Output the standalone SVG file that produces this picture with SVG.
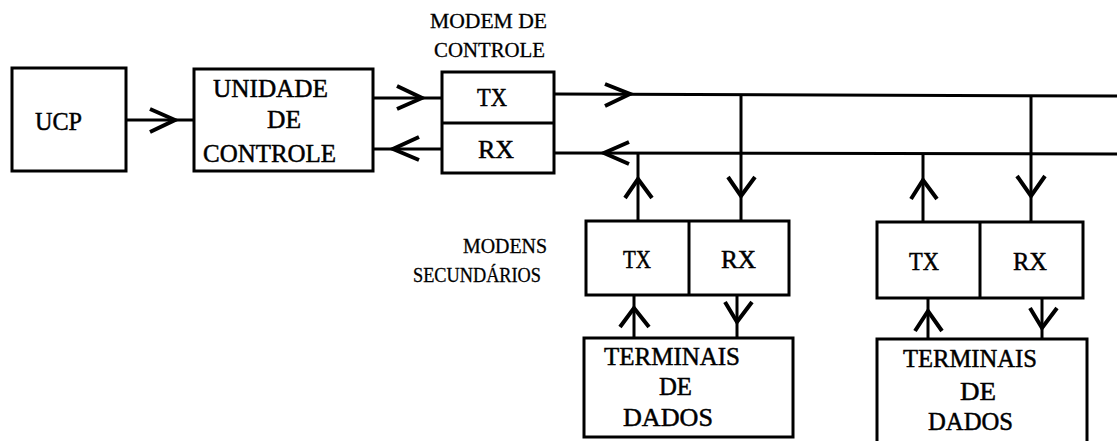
<svg xmlns="http://www.w3.org/2000/svg" width="1117" height="441" viewBox="0 0 1117 441">
  <style>
    .box { fill: none; stroke: #000; stroke-width: 3; }
    .line { fill: none; stroke: #000; stroke-width: 3; }
    .head { fill: none; stroke: #000; stroke-width: 4; stroke-linejoin: miter; stroke-linecap: butt; }
    .big { font-family: 'Times New Roman', 'Liberation Serif', 'DejaVu Serif', serif; font-size: 26px; fill: #000; stroke: #000; stroke-width: 0.5; }
    .small { font-family: 'Times New Roman', 'Liberation Serif', 'DejaVu Serif', serif; font-size: 20px; fill: #000; stroke: #000; stroke-width: 0.3; }
  </style>
  <rect width="1117" height="441" fill="#fff"/>

  <!-- CPU -->
  <g id="ucp">
    <rect class="box" x="12" y="68" width="114" height="103"/>
    <text class="big" x="35" y="130" textLength="47" lengthAdjust="spacingAndGlyphs">UCP</text>
  </g>

  <!-- Control unit -->
  <g id="unidade-controle">
    <rect class="box" x="194" y="69" width="179" height="102"/>
    <text class="big" x="213" y="97" textLength="115" lengthAdjust="spacingAndGlyphs">UNIDADE</text>
    <text class="big" x="267" y="128" textLength="34" lengthAdjust="spacingAndGlyphs">DE</text>
    <text class="big" x="203" y="162" textLength="133" lengthAdjust="spacingAndGlyphs">CONTROLE</text>
  </g>

  <!-- Control modem -->
  <g id="modem-controle">
    <text class="small" x="430" y="28" textLength="117" lengthAdjust="spacingAndGlyphs">MODEM DE</text>
    <text class="small" x="434" y="57" textLength="111" lengthAdjust="spacingAndGlyphs">CONTROLE</text>
    <rect class="box" x="442" y="72" width="112" height="101"/>
    <line class="line" x1="442" y1="123" x2="554" y2="123"/>
    <text class="big" x="477" y="106" textLength="30" lengthAdjust="spacingAndGlyphs">TX</text>
    <text class="big" x="478" y="158" textLength="36" lengthAdjust="spacingAndGlyphs">RX</text>
  </g>

  <!-- Secondary modems label -->
  <g id="label-modens">
    <text class="small" x="463" y="253" textLength="84" lengthAdjust="spacingAndGlyphs">MODENS</text>
    <text class="small" x="413" y="282" textLength="128" lengthAdjust="spacingAndGlyphs">SECUNDÁRIOS</text>
  </g>

  <!-- Secondary modem 1 -->
  <g id="modem-sec-1">
    <rect class="box" x="586" y="221" width="203" height="74"/>
    <line class="line" x1="689" y1="221" x2="689" y2="295"/>
    <text class="big" x="623" y="268" textLength="28" lengthAdjust="spacingAndGlyphs">TX</text>
    <text class="big" x="721" y="268" textLength="35" lengthAdjust="spacingAndGlyphs">RX</text>
  </g>

  <!-- Secondary modem 2 -->
  <g id="modem-sec-2">
    <rect class="box" x="877" y="222" width="206" height="76"/>
    <line class="line" x1="980" y1="222" x2="980" y2="298"/>
    <text class="big" x="909" y="270" textLength="30" lengthAdjust="spacingAndGlyphs">TX</text>
    <text class="big" x="1013" y="270" textLength="34" lengthAdjust="spacingAndGlyphs">RX</text>
  </g>

  <!-- Data terminals 1 -->
  <g id="terminais-1">
    <rect class="box" x="584" y="338" width="209" height="99"/>
    <text class="big" x="604" y="365" textLength="136" lengthAdjust="spacingAndGlyphs">TERMINAIS</text>
    <text class="big" x="659" y="395" textLength="33" lengthAdjust="spacingAndGlyphs">DE</text>
    <text class="big" x="623" y="426" textLength="90" lengthAdjust="spacingAndGlyphs">DADOS</text>
  </g>

  <!-- Data terminals 2 -->
  <g id="terminais-2">
    <rect class="box" x="877" y="339" width="210" height="106"/>
    <text class="big" x="903" y="367" textLength="134" lengthAdjust="spacingAndGlyphs">TERMINAIS</text>
    <text class="big" x="960" y="400" textLength="36" lengthAdjust="spacingAndGlyphs">DE</text>
    <text class="big" x="928" y="430" textLength="85" lengthAdjust="spacingAndGlyphs">DADOS</text>
  </g>

  <!-- Connectors -->
  <g id="connectors">
    <!-- UCP to control unit -->
    <line class="line" x1="126" y1="120" x2="194" y2="120"/>
    <path class="head" d="M150,109 L175,120 L150,132"/>
    <!-- control unit to modem TX -->
    <line class="line" x1="373" y1="98" x2="442" y2="98"/>
    <path class="head" d="M397,86 L422,98 L397,109"/>
    <!-- modem RX to control unit -->
    <line class="line" x1="373" y1="149" x2="442" y2="149"/>
    <path class="head" d="M419,137 L393,149 L419,160"/>

    <!-- outgoing bus -->
    <line class="line" x1="554" y1="94" x2="1117" y2="96"/>
    <path class="head" d="M605,84 L630,94 L605,106"/>
    <!-- return bus -->
    <line class="line" x1="554" y1="153" x2="1117" y2="154"/>
    <path class="head" d="M629,142 L604,153 L629,164"/>

    <!-- drops to secondary modem 1 -->
    <line class="line" x1="741" y1="94" x2="741" y2="221"/>
    <path class="head" d="M728,177 L741,196 L755,177"/>
    <line class="line" x1="638" y1="153" x2="638" y2="221"/>
    <path class="head" d="M625,198 L638,179 L652,198"/>

    <!-- drops to secondary modem 2 -->
    <line class="line" x1="1031" y1="95" x2="1031" y2="222"/>
    <path class="head" d="M1017,176 L1031,196 L1045,176"/>
    <line class="line" x1="923" y1="154" x2="923" y2="222"/>
    <path class="head" d="M911,199 L923,180 L937,199"/>

    <!-- modem 1 to terminals 1 -->
    <line class="line" x1="634" y1="295" x2="634" y2="338"/>
    <path class="head" d="M620,327 L634,308 L649,327"/>
    <line class="line" x1="737" y1="295" x2="737" y2="338"/>
    <path class="head" d="M725,302 L737,322 L752,302"/>

    <!-- modem 2 to terminals 2 -->
    <line class="line" x1="928" y1="298" x2="928" y2="339"/>
    <path class="head" d="M915,331 L928,311 L942,331"/>
    <line class="line" x1="1042" y1="298" x2="1042" y2="339"/>
    <path class="head" d="M1030,308 L1042,328 L1057,308"/>
  </g>
</svg>
